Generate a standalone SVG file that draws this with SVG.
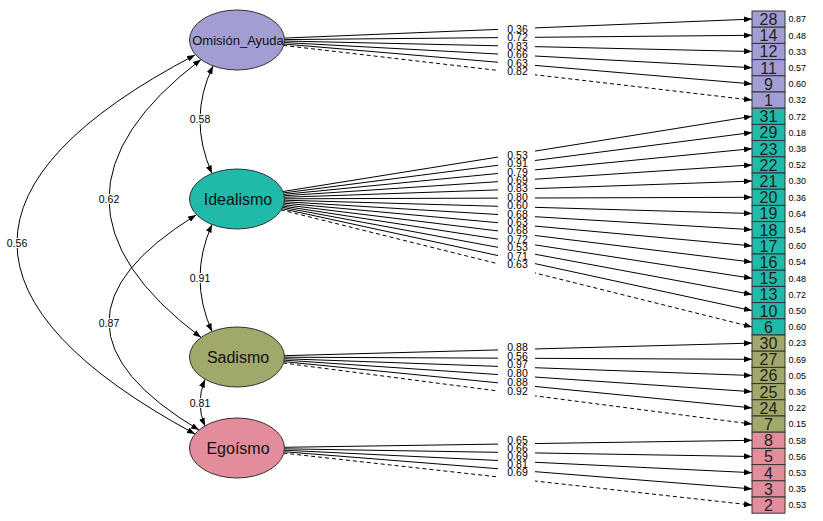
<svg xmlns="http://www.w3.org/2000/svg" width="823" height="521" viewBox="0 0 823 521">
<style>
.e{stroke:#000;stroke-width:1;fill:none;marker-end:url(#arr)}
.d{stroke-dasharray:4,3}
.c{stroke:#000;stroke-width:1;fill:none;marker-start:url(#arr);marker-end:url(#arr)}
.lt{font-family:"Liberation Sans",Arial,sans-serif;font-size:10.5px;fill:#000;text-anchor:middle}
.rs{font-family:"Liberation Sans",Arial,sans-serif;font-size:9px;fill:#000}
.bx{stroke:#333;stroke-width:1}
.bn{font-family:"Liberation Sans",Arial,sans-serif;font-size:16px;fill:#222;text-anchor:middle}
.fn{font-family:"Liberation Sans",Arial,sans-serif;fill:#111;text-anchor:middle}
.el{stroke:#333;stroke-width:1}
.om{fill:#A29ED3}.id{fill:#20BAAA}.sa{fill:#A1A86B}.eg{fill:#E38D9C}
</style>
<defs>
<marker id="arr" viewBox="0 0 8 6" refX="8" refY="3" markerWidth="8" markerHeight="6" markerUnits="userSpaceOnUse" orient="auto-start-reverse"><path d="M0,0 L8,3 L0,6 z" fill="#000"/></marker>
</defs>
<g id="connectors">
<path class="e" d="M283.9,38.1 L752,19.1"/>
<path class="e" d="M284,39.6 L752,35.3"/>
<path class="e" d="M284,41 L752,51.5"/>
<path class="e" d="M283.8,42.5 L752,67.7"/>
<path class="e" d="M283.6,44 L752,83.9"/>
<path class="e d" d="M283.2,45.4 L752,100.1"/>
<path class="e" d="M282.5,191.6 L752,116.3"/>
<path class="e" d="M283,193 L752,132.5"/>
<path class="e" d="M283.4,194.4 L752,148.7"/>
<path class="e" d="M283.7,195.8 L752,164.9"/>
<path class="e" d="M283.9,197.3 L752,181.1"/>
<path class="e" d="M284,198.8 L752,197.3"/>
<path class="e" d="M283.9,200.2 L752,213.5"/>
<path class="e" d="M283.8,201.7 L752,229.7"/>
<path class="e" d="M283.6,203.1 L752,245.9"/>
<path class="e" d="M283.2,204.6 L752,262.1"/>
<path class="e" d="M282.7,206 L752,278.3"/>
<path class="e" d="M282.2,207.3 L752,294.5"/>
<path class="e" d="M281.5,208.6 L752,310.7"/>
<path class="e d" d="M280.8,209.8 L752,326.9"/>
<path class="e" d="M283.9,355.7 L752,343.1"/>
<path class="e" d="M284,357.2 L752,359.3"/>
<path class="e" d="M283.9,358.7 L752,375.5"/>
<path class="e" d="M283.7,360.1 L752,391.7"/>
<path class="e" d="M283.4,361.6 L752,407.9"/>
<path class="e d" d="M283,363 L752,424.1"/>
<path class="e" d="M284,447.3 L752,440.3"/>
<path class="e" d="M284,448.8 L752,456.5"/>
<path class="e" d="M283.9,450.2 L752,472.7"/>
<path class="e" d="M283.6,451.7 L752,488.9"/>
<path class="e d" d="M283.3,453.1 L752,505.1"/>
<path class="c" d="M213,66 Q187.5,118.5 212,173.5"/>
<path class="c" d="M201,59.5 Q17,199.5 201,337.4"/>
<path class="c" d="M195,55 Q-161,241.5 195,434"/>
<path class="c" d="M212,224.5 Q188,278 212,331.5"/>
<path class="c" d="M196,215 Q20.5,323.5 199,430"/>
<path class="c" d="M205,379.5 Q195,403 205,426"/>
<g fill="#fff">
<rect x="498" y="25" width="37" height="52"/>
<rect x="498" y="150" width="37" height="125"/>
<rect x="498" y="342" width="37" height="55"/>
<rect x="498" y="436" width="37" height="46"/>
<rect x="189" y="114" width="22" height="10"/>
<rect x="98" y="194" width="22" height="10"/>
<rect x="6" y="238" width="22" height="10"/>
<rect x="189" y="273" width="22" height="10"/>
<rect x="98" y="318" width="22" height="10"/>
<rect x="189" y="398" width="22" height="10"/>
</g>
<g class="lt">
<text x="517.5" y="32.7">0.36</text>
<text x="517.5" y="41.2">0.72</text>
<text x="517.5" y="49.7">0.83</text>
<text x="517.5" y="58.2">0.66</text>
<text x="517.5" y="66.7">0.63</text>
<text x="517.5" y="75.2">0.82</text>
<text x="517.5" y="158.7">0.53</text>
<text x="517.5" y="167.1">0.91</text>
<text x="517.5" y="175.5">0.79</text>
<text x="517.5" y="183.9">0.69</text>
<text x="517.5" y="192.3">0.83</text>
<text x="517.5" y="200.7">0.80</text>
<text x="517.5" y="209.1">0.60</text>
<text x="517.5" y="217.5">0.68</text>
<text x="517.5" y="225.9">0.63</text>
<text x="517.5" y="234.3">0.68</text>
<text x="517.5" y="242.7">0.72</text>
<text x="517.5" y="251.1">0.53</text>
<text x="517.5" y="259.5">0.71</text>
<text x="517.5" y="267.9">0.63</text>
<text x="517.5" y="351">0.88</text>
<text x="517.5" y="359.7">0.56</text>
<text x="517.5" y="368.4">0.97</text>
<text x="517.5" y="377.1">0.80</text>
<text x="517.5" y="385.8">0.88</text>
<text x="517.5" y="394.5">0.92</text>
<text x="517.5" y="444.4">0.65</text>
<text x="517.5" y="452.4">0.66</text>
<text x="517.5" y="460.4">0.69</text>
<text x="517.5" y="468.4">0.81</text>
<text x="517.5" y="476.4">0.69</text>
<text x="200" y="122.7">0.58</text>
<text x="109" y="202.7">0.62</text>
<text x="17" y="246.7">0.56</text>
<text x="200" y="281.7">0.91</text>
<text x="109" y="326.7">0.87</text>
<text x="200" y="406.7">0.81</text>
</g>
</g>
<g id="OmisionAyuda">
<ellipse class="el om" cx="237" cy="40" rx="47.5" ry="30"/>
<text class="fn" x="238" y="44.5" font-size="13">Omisión_Ayuda</text>
</g>
<g id="Idealismo">
<ellipse class="el id" cx="237" cy="199" rx="47.5" ry="30"/>
<text class="fn" x="238" y="204.5" font-size="16">Idealismo</text>
</g>
<g id="Sadismo">
<ellipse class="el sa" cx="237" cy="357" rx="47.5" ry="30"/>
<text class="fn" x="238" y="362.5" font-size="16">Sadismo</text>
</g>
<g id="Egoismo">
<ellipse class="el eg" cx="237" cy="448" rx="47.5" ry="30"/>
<text class="fn" x="238" y="453.5" font-size="16">Egoísmo</text>
</g>
<g id="items">
<g class="bx om">
<rect x="752" y="11" width="33" height="16.2"/>
<rect x="752" y="27.2" width="33" height="16.2"/>
<rect x="752" y="43.4" width="33" height="16.2"/>
<rect x="752" y="59.6" width="33" height="16.2"/>
<rect x="752" y="75.8" width="33" height="16.2"/>
<rect x="752" y="92" width="33" height="16.2"/>
</g>
<g class="bx id">
<rect x="752" y="108.2" width="33" height="16.2"/>
<rect x="752" y="124.4" width="33" height="16.2"/>
<rect x="752" y="140.6" width="33" height="16.2"/>
<rect x="752" y="156.8" width="33" height="16.2"/>
<rect x="752" y="173" width="33" height="16.2"/>
<rect x="752" y="189.2" width="33" height="16.2"/>
<rect x="752" y="205.4" width="33" height="16.2"/>
<rect x="752" y="221.6" width="33" height="16.2"/>
<rect x="752" y="237.8" width="33" height="16.2"/>
<rect x="752" y="254" width="33" height="16.2"/>
<rect x="752" y="270.2" width="33" height="16.2"/>
<rect x="752" y="286.4" width="33" height="16.2"/>
<rect x="752" y="302.6" width="33" height="16.2"/>
<rect x="752" y="318.8" width="33" height="16.2"/>
</g>
<g class="bx sa">
<rect x="752" y="335" width="33" height="16.2"/>
<rect x="752" y="351.2" width="33" height="16.2"/>
<rect x="752" y="367.4" width="33" height="16.2"/>
<rect x="752" y="383.6" width="33" height="16.2"/>
<rect x="752" y="399.8" width="33" height="16.2"/>
<rect x="752" y="416" width="33" height="16.2"/>
</g>
<g class="bx eg">
<rect x="752" y="432.2" width="33" height="16.2"/>
<rect x="752" y="448.4" width="33" height="16.2"/>
<rect x="752" y="464.6" width="33" height="16.2"/>
<rect x="752" y="480.8" width="33" height="16.2"/>
<rect x="752" y="497" width="33" height="16.2"/>
</g>
<g class="bn">
<text x="768.5" y="24.9">28</text>
<text x="768.5" y="41.1">14</text>
<text x="768.5" y="57.3">12</text>
<text x="768.5" y="73.5">11</text>
<text x="768.5" y="89.7">9</text>
<text x="768.5" y="105.9">1</text>
<text x="768.5" y="122.1">31</text>
<text x="768.5" y="138.3">29</text>
<text x="768.5" y="154.5">23</text>
<text x="768.5" y="170.7">22</text>
<text x="768.5" y="186.9">21</text>
<text x="768.5" y="203.1">20</text>
<text x="768.5" y="219.3">19</text>
<text x="768.5" y="235.5">18</text>
<text x="768.5" y="251.7">17</text>
<text x="768.5" y="267.9">16</text>
<text x="768.5" y="284.1">15</text>
<text x="768.5" y="300.3">13</text>
<text x="768.5" y="316.5">10</text>
<text x="768.5" y="332.7">6</text>
<text x="768.5" y="348.9">30</text>
<text x="768.5" y="365.1">27</text>
<text x="768.5" y="381.3">26</text>
<text x="768.5" y="397.5">25</text>
<text x="768.5" y="413.7">24</text>
<text x="768.5" y="429.9">7</text>
<text x="768.5" y="446.1">8</text>
<text x="768.5" y="462.3">5</text>
<text x="768.5" y="478.5">4</text>
<text x="768.5" y="494.7">3</text>
<text x="768.5" y="510.9">2</text>
</g>
<g class="rs">
<text x="788.5" y="22.3">0.87</text>
<text x="788.5" y="38.5">0.48</text>
<text x="788.5" y="54.7">0.33</text>
<text x="788.5" y="70.9">0.57</text>
<text x="788.5" y="87.1">0.60</text>
<text x="788.5" y="103.3">0.32</text>
<text x="788.5" y="119.5">0.72</text>
<text x="788.5" y="135.7">0.18</text>
<text x="788.5" y="151.9">0.38</text>
<text x="788.5" y="168.1">0.52</text>
<text x="788.5" y="184.3">0.30</text>
<text x="788.5" y="200.5">0.36</text>
<text x="788.5" y="216.7">0.64</text>
<text x="788.5" y="232.9">0.54</text>
<text x="788.5" y="249.1">0.60</text>
<text x="788.5" y="265.3">0.54</text>
<text x="788.5" y="281.5">0.48</text>
<text x="788.5" y="297.7">0.72</text>
<text x="788.5" y="313.9">0.50</text>
<text x="788.5" y="330.1">0.60</text>
<text x="788.5" y="346.3">0.23</text>
<text x="788.5" y="362.5">0.69</text>
<text x="788.5" y="378.7">0.05</text>
<text x="788.5" y="394.9">0.36</text>
<text x="788.5" y="411.1">0.22</text>
<text x="788.5" y="427.3">0.15</text>
<text x="788.5" y="443.5">0.58</text>
<text x="788.5" y="459.7">0.56</text>
<text x="788.5" y="475.9">0.53</text>
<text x="788.5" y="492.1">0.35</text>
<text x="788.5" y="508.3">0.53</text>
</g>
</g>
</svg>
